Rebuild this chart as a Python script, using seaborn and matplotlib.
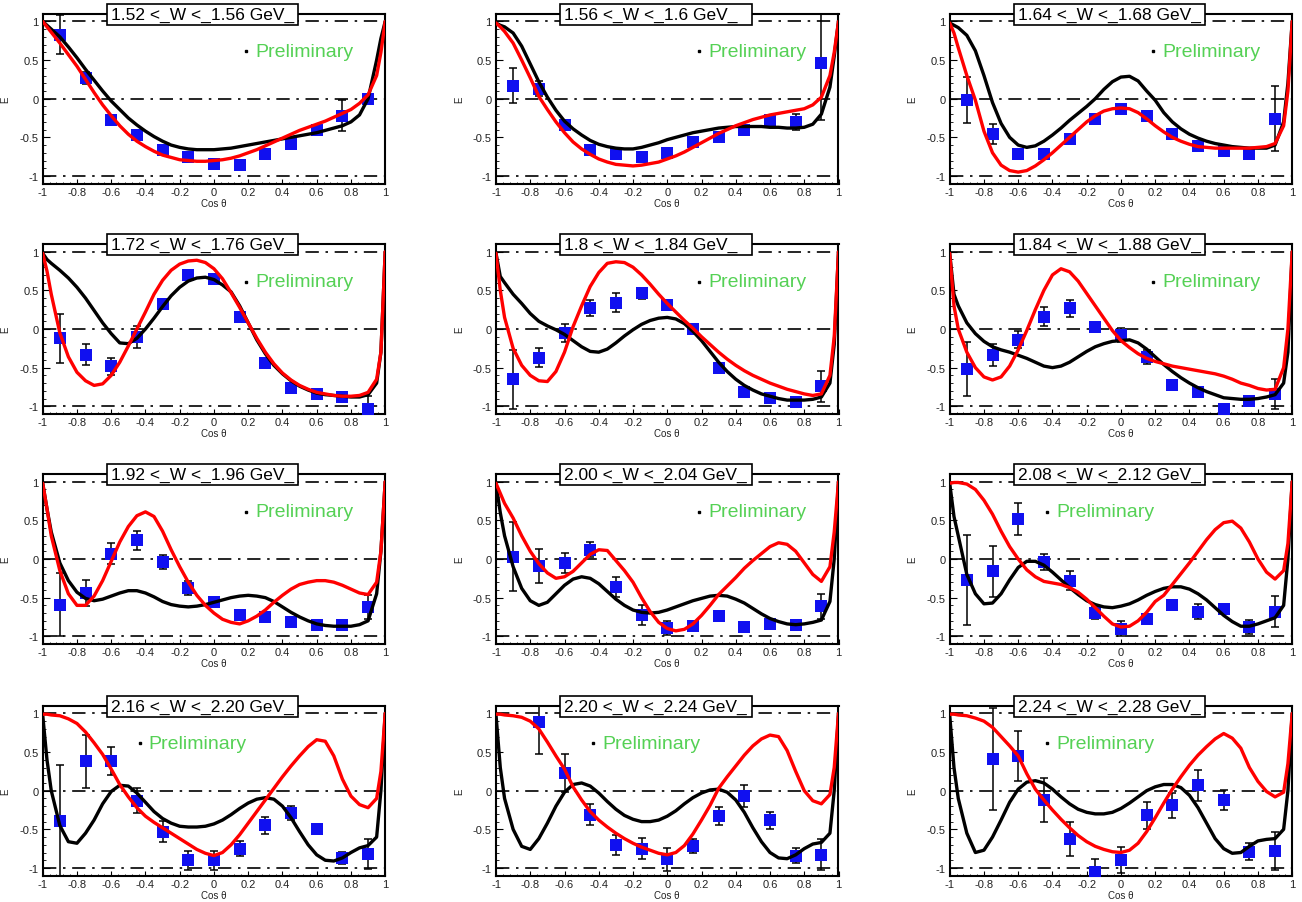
import numpy as np
import matplotlib
matplotlib.use("Agg")
import matplotlib.pyplot as plt
from matplotlib.patches import Rectangle
from matplotlib.ticker import AutoMinorLocator
import seaborn as sns

sns.set_theme(style="ticks")
plt.rcParams["font.family"] = ["Liberation Sans", "DejaVu Sans"]
plt.rcParams["axes.unicode_minus"] = False

nan = np.nan

# W bins (panel titles)
titles = ["1.52 <_W <_1.56 GeV_", "1.56 <_W <_1.6 GeV_", "1.64 <_W <_1.68 GeV_",
          "1.72 <_W <_1.76 GeV_", "1.8 <_W <_1.84 GeV_", "1.84 <_W <_1.88 GeV_",
          "1.92 <_W <_1.96 GeV_", "2.00 <_W <_2.04 GeV_", "2.08 <_W <_2.12 GeV_",
          "2.16 <_W <_2.20 GeV_", "2.20 <_W <_2.24 GeV_", "2.24 <_W <_2.28 GeV_"]

# measured points
cos_pts = [-0.9, -0.75, -0.6, -0.45, -0.3, -0.15, 0.0, 0.15, 0.3, 0.45, 0.6, 0.75, 0.9]

e_vals = [
    [0.83, 0.27, -0.27, -0.47, -0.66, -0.76, -0.85, -0.86, -0.71, -0.58, -0.4, -0.22, 0.0],
    [0.17, 0.13, -0.34, -0.67, -0.72, -0.76, -0.7, -0.56, -0.5, -0.41, -0.27, -0.3, 0.46],
    [-0.02, -0.46, -0.72, -0.71, -0.52, -0.26, -0.13, -0.22, -0.46, -0.61, -0.68, -0.71, -0.26],
    [-0.12, -0.33, -0.48, -0.1, 0.32, 0.7, 0.65, 0.15, -0.44, -0.76, -0.84, -0.88, -1.04],
    [-0.65, -0.37, -0.05, 0.27, 0.34, 0.46, 0.31, 0.0, -0.5, -0.81, -0.89, -0.95, -0.74],
    [-0.52, -0.34, -0.14, 0.16, 0.27, 0.02, -0.08, -0.36, -0.72, -0.82, -1.03, -0.93, -0.84],
    [-0.59, -0.44, 0.07, 0.24, -0.04, -0.37, -0.55, -0.73, -0.75, -0.81, -0.85, -0.85, -0.62],
    [0.03, -0.09, -0.05, 0.12, -0.36, -0.72, -0.89, -0.87, -0.74, -0.88, -0.84, -0.86, -0.61],
    [-0.27, -0.16, 0.52, -0.04, -0.28, -0.7, -0.9, -0.78, -0.59, -0.68, -0.65, -0.88, -0.68],
    [-0.39, 0.38, 0.38, -0.13, -0.53, -0.9, -0.9, -0.75, -0.45, -0.29, -0.5, -0.87, -0.82],
    [nan, 0.89, 0.23, -0.31, -0.7, -0.75, -0.89, -0.71, -0.33, -0.07, -0.38, -0.84, -0.83],
    [nan, 0.41, 0.45, -0.12, -0.62, -1.05, -0.9, -0.32, -0.19, 0.07, -0.12, -0.79, -0.78],
]

e_errs = [
    [0.25, 0.08, 0.03, 0.03, 0.03, 0.03, 0.03, 0.03, 0.03, 0.03, 0.05, 0.2, 0.03],
    [0.23, 0.1, 0.03, 0.03, 0.03, 0.03, 0.05, 0.03, 0.03, 0.03, 0.03, 0.1, 0.73],
    [0.3, 0.13, 0.05, 0.03, 0.03, 0.03, 0.04, 0.03, 0.03, 0.03, 0.03, 0.03, 0.42],
    [0.32, 0.14, 0.11, 0.14, 0.06, 0.03, 0.03, 0.03, 0.07, 0.03, 0.03, 0.03, 0.17],
    [0.38, 0.12, 0.12, 0.1, 0.12, 0.07, 0.07, 0.03, 0.03, 0.03, 0.03, 0.03, 0.2],
    [0.35, 0.14, 0.11, 0.12, 0.11, 0.03, 0.09, 0.09, 0.03, 0.03, 0.03, 0.03, 0.19],
    [0.41, 0.17, 0.14, 0.12, 0.09, 0.09, 0.03, 0.03, 0.03, 0.03, 0.03, 0.03, 0.16],
    [0.45, 0.22, 0.13, 0.1, 0.13, 0.13, 0.09, 0.03, 0.03, 0.03, 0.03, 0.03, 0.16],
    [0.58, 0.33, 0.21, 0.1, 0.12, 0.08, 0.1, 0.03, 0.03, 0.1, 0.03, 0.09, 0.2],
    [0.72, 0.34, 0.18, 0.16, 0.14, 0.12, 0.12, 0.1, 0.11, 0.09, 0.05, 0.08, 0.19],
    [nan, 0.42, 0.25, 0.14, 0.13, 0.14, 0.15, 0.09, 0.12, 0.14, 0.11, 0.1, 0.2],
    [nan, 0.66, 0.32, 0.28, 0.22, 0.16, 0.17, 0.18, 0.16, 0.2, 0.13, 0.11, 0.24],
]

cos_grid = [-1.0, -0.975, -0.95,
            -0.9, -0.85, -0.8, -0.75, -0.7, -0.65, -0.6, -0.55, -0.5, -0.45,
            -0.4, -0.35, -0.3, -0.25, -0.2, -0.15, -0.1, -0.05, 0.0, 0.05,
            0.1, 0.15, 0.2, 0.25, 0.3, 0.35, 0.4, 0.45, 0.5, 0.55,
            0.6, 0.65, 0.7, 0.75, 0.8, 0.85, 0.9,
            0.95, 0.975, 1.0]

black_fit = [
    [1.0, 0.95, 0.9,
     0.8, 0.67, 0.53, 0.38, 0.24, 0.1, -0.03, -0.14, -0.25, -0.34,
     -0.42, -0.49, -0.55, -0.6, -0.63, -0.65, -0.66, -0.66, -0.66, -0.65,
     -0.64, -0.62, -0.6, -0.58, -0.56, -0.54, -0.52, -0.5, -0.48, -0.46,
     -0.44, -0.41, -0.38, -0.35, -0.3, -0.21, 0.0,
     0.5, 0.78, 1.0],
    [0.98, 0.95, 0.93,
     0.85, 0.68, 0.45, 0.22, 0.02, -0.15, -0.29, -0.39, -0.47, -0.54,
     -0.59, -0.62, -0.64, -0.65, -0.65, -0.63, -0.6, -0.57, -0.53, -0.5,
     -0.47, -0.44, -0.42, -0.4, -0.38, -0.37, -0.36, -0.36, -0.36, -0.36,
     -0.37, -0.37, -0.38, -0.38, -0.37, -0.33, -0.2,
     0.15, 0.55, 1.0],
    [0.98, 0.95, 0.92,
     0.82, 0.62, 0.3, -0.05, -0.32, -0.5, -0.6, -0.63, -0.61, -0.55,
     -0.47, -0.38, -0.28, -0.19, -0.1, 0.0, 0.12, 0.22, 0.28, 0.29,
     0.23, 0.1, -0.02, -0.18, -0.3, -0.39, -0.46, -0.51, -0.55, -0.58,
     -0.6, -0.62, -0.63, -0.64, -0.64, -0.64, -0.6,
     -0.3, 0.2, 1.0],
    [0.98, 0.9, 0.85,
     0.76, 0.66, 0.54, 0.4, 0.24, 0.08, -0.06, -0.18, -0.19, -0.12,
     0.0, 0.14, 0.29, 0.43, 0.54, 0.62, 0.66, 0.67, 0.64, 0.57,
     0.48, 0.3, 0.08, -0.14, -0.32, -0.47, -0.58, -0.67, -0.74, -0.79,
     -0.83, -0.85, -0.86, -0.87, -0.88, -0.88, -0.85,
     -0.7, -0.3, 1.0],
    [0.98, 0.68, 0.6,
     0.45, 0.33, 0.2, 0.1, 0.04, -0.01, -0.07, -0.15, -0.23, -0.29,
     -0.3, -0.26, -0.18, -0.09, -0.01, 0.06, 0.11, 0.14, 0.15, 0.13,
     0.07, -0.03, -0.15, -0.29, -0.43, -0.55, -0.65, -0.73, -0.79, -0.84,
     -0.87, -0.9, -0.92, -0.92, -0.92, -0.91, -0.88,
     -0.7, -0.2, 1.0],
    [0.98, 0.45, 0.3,
     0.08, -0.06, -0.16, -0.23, -0.27, -0.3, -0.34, -0.38, -0.43, -0.48,
     -0.5, -0.48, -0.43, -0.36, -0.29, -0.23, -0.19, -0.16, -0.15, -0.14,
     -0.18, -0.26, -0.36, -0.46, -0.55, -0.63, -0.7, -0.76, -0.81, -0.85,
     -0.89, -0.9, -0.91, -0.91, -0.9, -0.88, -0.85,
     -0.7, -0.3, 1.0],
    [0.98, 0.65, 0.35,
     -0.05, -0.28, -0.43, -0.51, -0.54, -0.52, -0.48, -0.44, -0.41, -0.41,
     -0.44, -0.49, -0.55, -0.59, -0.61, -0.62, -0.61, -0.59, -0.56, -0.53,
     -0.5, -0.48, -0.47, -0.48, -0.5, -0.55, -0.62, -0.69, -0.75, -0.8,
     -0.84, -0.86, -0.87, -0.87, -0.87, -0.85, -0.8,
     -0.45, 0.1, 1.0],
    [0.98, 0.6, 0.3,
     -0.1, -0.38, -0.54, -0.6, -0.56, -0.45, -0.34, -0.26, -0.23, -0.25,
     -0.32, -0.42, -0.52, -0.6, -0.66, -0.69, -0.7, -0.69, -0.66, -0.62,
     -0.58, -0.54, -0.51, -0.48, -0.47, -0.48, -0.52, -0.57, -0.64, -0.71,
     -0.77, -0.81, -0.84, -0.85, -0.84, -0.82, -0.79,
     -0.55, 0.0, 1.0],
    [0.98, 0.55, 0.3,
     -0.2, -0.45, -0.58, -0.57, -0.45, -0.27, -0.11, -0.03, -0.03, -0.08,
     -0.17, -0.27, -0.37, -0.46, -0.54, -0.59, -0.62, -0.63, -0.61, -0.58,
     -0.53, -0.47, -0.42, -0.38, -0.36, -0.36, -0.39, -0.45, -0.53, -0.63,
     -0.73, -0.81, -0.87, -0.87, -0.84, -0.8, -0.76,
     -0.6, 0.0, 1.0],
    [0.98, 0.4, 0.0,
     -0.45, -0.66, -0.68, -0.55, -0.38, -0.17, -0.01, 0.07, 0.06, -0.03,
     -0.15, -0.27, -0.36, -0.42, -0.46, -0.47, -0.47, -0.46, -0.43, -0.38,
     -0.31, -0.23, -0.16, -0.11, -0.09, -0.11, -0.2, -0.35, -0.53, -0.7,
     -0.83, -0.9, -0.91, -0.87, -0.8, -0.74, -0.71,
     -0.6, 0.0, 1.0],
    [0.98, 0.3, -0.1,
     -0.5, -0.72, -0.76, -0.62, -0.42, -0.2, -0.02, 0.08, 0.1, 0.06,
     -0.03, -0.14, -0.24, -0.32, -0.37, -0.4, -0.4, -0.38, -0.33, -0.26,
     -0.17, -0.09, -0.03, 0.01, 0.02, -0.02, -0.12, -0.28, -0.48, -0.66,
     -0.8, -0.87, -0.88, -0.83, -0.75, -0.69, -0.67,
     -0.55, 0.0, 1.0],
    [0.98, 0.3, -0.1,
     -0.55, -0.8, -0.77, -0.6, -0.38, -0.15, 0.02, 0.11, 0.13, 0.1,
     0.02, -0.08, -0.17, -0.24, -0.28, -0.3, -0.3, -0.28, -0.23, -0.16,
     -0.08, 0.0, 0.05, 0.08, 0.08, 0.04, -0.06, -0.22, -0.42, -0.62,
     -0.75, -0.81, -0.8, -0.72, -0.65, -0.63, -0.62,
     -0.5, 0.0, 1.0],
]

red_fit = [
    [1.0, 0.93, 0.86,
     0.72, 0.57, 0.42, 0.25, 0.08, -0.08, -0.22, -0.35, -0.46, -0.55,
     -0.62, -0.68, -0.73, -0.76, -0.79, -0.8, -0.81, -0.81, -0.8, -0.79,
     -0.77, -0.74, -0.7, -0.66, -0.61, -0.56, -0.51, -0.46, -0.41, -0.37,
     -0.33, -0.29, -0.24, -0.19, -0.14, -0.06, 0.05,
     0.3, 0.6, 1.0],
    [0.98, 0.93, 0.87,
     0.72, 0.5, 0.27, 0.03, -0.14, -0.3, -0.44, -0.56, -0.65, -0.72,
     -0.78, -0.82, -0.85, -0.86, -0.87, -0.86, -0.84, -0.82, -0.78, -0.74,
     -0.69, -0.63, -0.57, -0.51, -0.45, -0.4, -0.35, -0.31, -0.27, -0.24,
     -0.21, -0.19, -0.17, -0.15, -0.13, -0.08, 0.02,
     0.3, 0.6, 1.0],
    [0.98, 0.85, 0.66,
     0.3, -0.02, -0.42, -0.7, -0.86, -0.93, -0.95, -0.93, -0.87, -0.79,
     -0.7, -0.6, -0.5, -0.4, -0.3, -0.22, -0.16, -0.13, -0.12, -0.13,
     -0.18, -0.26, -0.35, -0.43, -0.5, -0.55, -0.59, -0.62, -0.63, -0.64,
     -0.64, -0.64, -0.64, -0.64, -0.63, -0.62, -0.58,
     -0.35, 0.1, 1.0],
    [0.98, 0.75, 0.45,
     -0.05, -0.36, -0.56, -0.67, -0.73, -0.71, -0.6, -0.43, -0.22, 0.0,
     0.22, 0.45, 0.63, 0.76, 0.84, 0.88, 0.89, 0.86, 0.78, 0.65,
     0.47, 0.28, 0.08, -0.12, -0.3, -0.45, -0.57, -0.66, -0.73, -0.78,
     -0.82, -0.84, -0.86, -0.87, -0.87, -0.86, -0.82,
     -0.65, -0.3, 1.0],
    [0.98, 0.5, 0.15,
     -0.25, -0.47, -0.6, -0.67, -0.68, -0.55, -0.3, 0.03, 0.3, 0.55,
     0.73, 0.85, 0.87, 0.86, 0.8, 0.7, 0.58, 0.45, 0.33, 0.22,
     0.11, 0.01, -0.1, -0.2, -0.3, -0.39, -0.47, -0.54, -0.6, -0.65,
     -0.7, -0.74, -0.78, -0.81, -0.84, -0.86, -0.84,
     -0.6, -0.1, 1.0],
    [0.98, 0.3, 0.0,
     -0.3, -0.5, -0.62, -0.66, -0.62, -0.48, -0.27, -0.02, 0.25, 0.5,
     0.7, 0.78, 0.74, 0.62, 0.46, 0.3, 0.14, -0.02, -0.15, -0.24,
     -0.32, -0.38, -0.42, -0.45, -0.48, -0.5, -0.52, -0.54, -0.56, -0.58,
     -0.61, -0.65, -0.7, -0.73, -0.77, -0.79, -0.78,
     -0.5, 0.0, 1.0],
    [0.98, 0.65, 0.3,
     -0.15, -0.45, -0.6, -0.6, -0.48, -0.28, -0.03, 0.22, 0.42, 0.56,
     0.61, 0.55, 0.36, 0.12, -0.1, -0.3, -0.47, -0.6, -0.7, -0.78,
     -0.82, -0.84, -0.8, -0.74, -0.66, -0.56, -0.47, -0.39, -0.33, -0.3,
     -0.28, -0.28, -0.3, -0.34, -0.39, -0.44, -0.46,
     -0.3, 0.1, 1.0],
    [0.98, 0.85, 0.72,
     0.53, 0.3, 0.1, -0.06, -0.18, -0.25, -0.23, -0.16, -0.05, 0.06,
     0.12, 0.11, -0.02, -0.15, -0.3, -0.5, -0.68, -0.82, -0.9, -0.93,
     -0.91, -0.84, -0.73, -0.6, -0.46, -0.35, -0.24, -0.12, -0.02, 0.07,
     0.16, 0.21, 0.19, 0.1, -0.05, -0.2, -0.29,
     -0.1, 0.35, 1.0],
    [0.98, 0.99, 0.99,
     0.97, 0.9, 0.76, 0.58, 0.36, 0.16, 0.0, -0.14, -0.23, -0.29,
     -0.31, -0.33, -0.37, -0.43, -0.52, -0.63, -0.74, -0.84, -0.88, -0.87,
     -0.8, -0.69, -0.55, -0.47, -0.33, -0.19, -0.05, 0.1, 0.25, 0.38,
     0.47, 0.49, 0.4, 0.22, 0.0, -0.17, -0.26,
     -0.15, 0.2, 1.0],
    [0.99, 0.99, 0.98,
     0.97, 0.93, 0.87, 0.76, 0.62, 0.47, 0.28, 0.08, -0.08, -0.22,
     -0.33, -0.41, -0.48, -0.55, -0.62, -0.69, -0.76, -0.81, -0.84, -0.8,
     -0.7, -0.57, -0.42, -0.27, -0.12, 0.03, 0.18, 0.32, 0.45, 0.57,
     0.66, 0.64, 0.45, 0.15, -0.07, -0.18, -0.22,
     -0.1, 0.25, 1.0],
    [0.99, 0.99, 0.98,
     0.97, 0.95, 0.9, 0.8, 0.63, 0.45, 0.28, 0.05, -0.12, -0.27,
     -0.38, -0.47, -0.55, -0.62, -0.68, -0.73, -0.77, -0.81, -0.83, -0.8,
     -0.71, -0.56, -0.38, -0.19, 0.03, 0.18, 0.32, 0.46, 0.58, 0.67,
     0.72, 0.7, 0.52, 0.25, 0.0, -0.13, -0.17,
     -0.05, 0.3, 1.0],
    [0.99, 0.99, 0.98,
     0.97, 0.94, 0.9, 0.82, 0.7, 0.58, 0.45, 0.22, 0.02, -0.12,
     -0.25, -0.37, -0.48, -0.58, -0.66, -0.72, -0.76, -0.79, -0.8, -0.77,
     -0.68, -0.53, -0.35, -0.16, 0.02, 0.18, 0.33, 0.46, 0.57, 0.67,
     0.74, 0.68, 0.55, 0.3, 0.12, -0.01, -0.08,
     -0.02, 0.35, 1.0],
]

x_ticks = [-1, -0.8, -0.6, -0.4, -0.2, 0, 0.2, 0.4, 0.6, 0.8, 1]
y_ticks = [-1, -0.5, 0, 0.5, 1]
ref_lines = [1, 0, -1]

W, H = 1302, 903
col_left = [42.7, 496, 949.7]
row_top = [14.7, 245, 475, 706.7]
ax_w, ax_h = 342.5, 170

fig = plt.figure(figsize=(W / 100, H / 100), dpi=100)

for i in range(12):
    r, c = divmod(i, 3)
    ax = fig.add_axes([col_left[c] / W, 1 - (row_top[r] + ax_h) / H, ax_w / W, ax_h / H])
    ax.set_facecolor("white")

    for yl in ref_lines:
        ax.axhline(yl, color="black", lw=1.2, ls=(0, (8, 4, 1.5, 4)), zorder=1)

    ax.errorbar(cos_pts, e_vals[i], yerr=e_errs[i], fmt="none", ecolor="black",
                elinewidth=1.1, capsize=2.6, capthick=1.1, zorder=2)
    sns.scatterplot(x=cos_pts, y=e_vals[i], marker="s", s=64, color="#1010f0",
                    linewidth=0, ax=ax, zorder=3)
    sns.lineplot(x=cos_grid, y=black_fit[i], color="black", lw=2.4, sort=False,
                 estimator=None, ax=ax, zorder=4)
    sns.lineplot(x=cos_grid, y=red_fit[i], color="#ff0000", lw=2.4, sort=False,
                 estimator=None, ax=ax, zorder=5)

    ax.set_xlim(-1, 1)
    ax.set_ylim(-1.1, 1.1)
    ax.set_xticks(x_ticks)
    ax.set_xticklabels([f"{v:g}" for v in x_ticks])
    ax.set_yticks(y_ticks)
    ax.set_yticklabels([f"{v:g}" for v in y_ticks])
    ax.xaxis.set_minor_locator(AutoMinorLocator(5))
    ax.yaxis.set_minor_locator(AutoMinorLocator(5))
    ax.tick_params(axis="both", which="major", direction="in", labelsize=8,
                   width=0.8, colors="black", labelcolor="#222222")
    ax.tick_params(axis="y", which="major", length=4.8, pad=3)
    ax.tick_params(axis="x", which="major", length=3.6, pad=2.5)
    ax.tick_params(axis="y", which="minor", direction="in", length=2.4, width=0.7)
    ax.tick_params(axis="x", which="minor", direction="in", length=1.8, width=0.7)
    for sp in ax.spines.values():
        sp.set_color("black")
        sp.set_linewidth(1.5)

    ax.set_xlabel("Cos θ", fontsize=7, color="#222222")
    ax.set_ylabel("E", fontsize=7, color="#222222")
    ax.xaxis.set_label_coords(0.5, -0.085)
    ax.yaxis.set_label_coords(-0.094, 0.5)

    # title box
    ax.add_patch(Rectangle((0.188, 0.935), 0.558, 0.124, transform=ax.transAxes,
                           facecolor="white", edgecolor="black", lw=1.2,
                           clip_on=False, zorder=10))
    ax.text(0.2, 0.997, titles[i], transform=ax.transAxes, fontsize=12.5,
            ha="left", va="center", color="black", zorder=11, clip_on=False)

    # preliminary label
    px = 0.62 if i < 8 else 0.31
    ax.plot([px - 0.027], [0.778], marker="s", ms=1.6, color="black",
            transform=ax.transAxes, zorder=6)
    ax.text(px, 0.778, "Preliminary", transform=ax.transAxes, fontsize=14,
            ha="left", va="center", color="#55d155", zorder=6)

fig.savefig("out.png", dpi=100)
